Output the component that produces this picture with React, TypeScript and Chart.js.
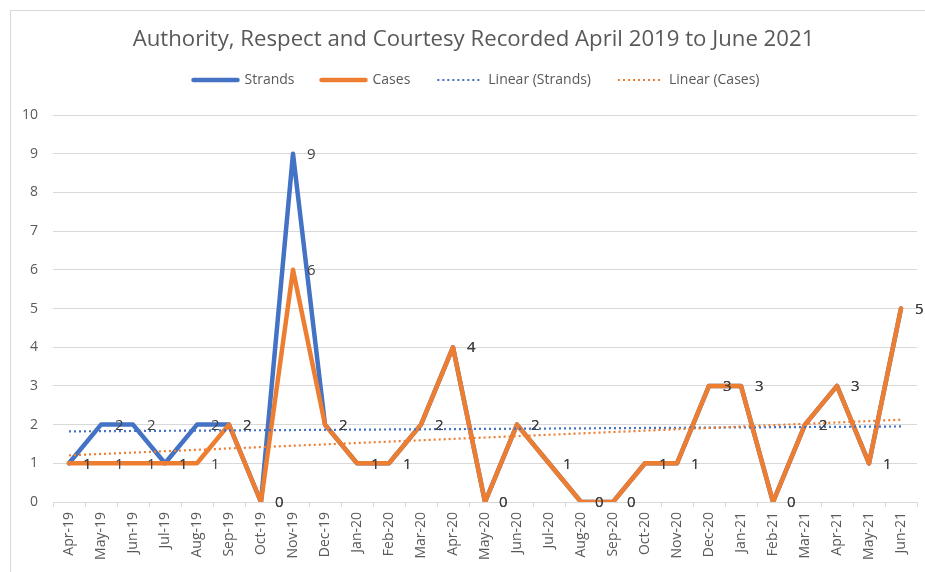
import { useEffect, useRef } from 'react';
import { Chart, registerables } from 'chart.js';

Chart.register(...registerables);

// Monthly categories, April 2019 to June 2021
const months = [
  'Apr-19', 'May-19', 'Jun-19', 'Jul-19', 'Aug-19', 'Sep-19', 'Oct-19', 'Nov-19', 'Dec-19',
  'Jan-20', 'Feb-20', 'Mar-20', 'Apr-20', 'May-20', 'Jun-20', 'Jul-20', 'Aug-20', 'Sep-20',
  'Oct-20', 'Nov-20', 'Dec-20', 'Jan-21', 'Feb-21', 'Mar-21', 'Apr-21', 'May-21', 'Jun-21',
];

const strands = [1, 2, 2, 1, 2, 2, 0, 9, 2, 1, 1, 2, 4, 0, 2, 1, 0, 0, 1, 1, 3, 3, 0, 2, 3, 1, 5];
const cases = [1, 1, 1, 1, 1, 2, 0, 6, 2, 1, 1, 2, 4, 0, 2, 1, 0, 0, 1, 1, 3, 3, 0, 2, 3, 1, 5];

const yTicks = [0, 1, 2, 3, 4, 5, 6, 7, 8, 9, 10];

const TITLE = 'Authority, Respect and Courtesy Recorded April 2019 to June 2021';
const BLUE = '#4472C4';
const ORANGE = '#ED7D31';
const TEXT = '#595959';
const LABEL = '#404040';
const GRID = '#d9d9d9';
const FONT = "'Open Sans', 'Noto Sans', sans-serif";

// Least-squares linear trend evaluated at every category index
function linearTrend(values: number[]): number[] {
  const n = values.length;
  const mx = (n - 1) / 2;
  const my = values.reduce((a, b) => a + b, 0) / n;
  let sxy = 0;
  let sxx = 0;
  values.forEach((v, i) => {
    sxy += (i - mx) * (v - my);
    sxx += (i - mx) * (i - mx);
  });
  const slope = sxy / sxx;
  return values.map((_, i) => my + slope * (i - mx));
}

const legendItems = [
  { text: 'Strands', color: BLUE, width: 4.5, dash: [] as number[] },
  { text: 'Cases', color: ORANGE, width: 4.5, dash: [] as number[] },
  { text: 'Linear (Strands)', color: BLUE, width: 2.2, dash: [2, 3] },
  { text: 'Linear (Cases)', color: ORANGE, width: 2.2, dash: [2, 3] },
];

// Value labels placed to the right of each point of the two main series
const valueLabels = {
  id: 'valueLabels',
  afterDatasetsDraw(chart: Chart) {
    const ctx = chart.ctx;
    ctx.save();
    ctx.font = `15px ${FONT}`;
    ctx.fillStyle = LABEL;
    ctx.textAlign = 'left';
    ctx.textBaseline = 'middle';
    [0, 1].forEach((di) => {
      const meta = chart.getDatasetMeta(di);
      const data = chart.data.datasets[di].data as number[];
      meta.data.forEach((pt: any, i: number) => {
        ctx.fillText(String(data[i]), pt.x + 14, pt.y + 1);
      });
    });
    ctx.restore();
  },
};

// Single-row legend with line samples
const lineLegend = {
  id: 'lineLegend',
  afterDraw(chart: Chart) {
    const ctx = chart.ctx;
    const sample = 48;
    const gap = 5;
    const spacing = 25;
    const y = 69;
    ctx.save();
    ctx.font = `14px ${FONT}`;
    const widths = legendItems.map((it) => ctx.measureText(it.text).width);
    const total = widths.reduce((a, w) => a + sample + gap + w, 0) + spacing * (legendItems.length - 1);
    let x = chart.width / 2 + 2 - total / 2;
    legendItems.forEach((it, i) => {
      ctx.beginPath();
      ctx.strokeStyle = it.color;
      ctx.lineWidth = it.width;
      ctx.lineCap = it.dash.length ? 'butt' : 'round';
      ctx.setLineDash(it.dash);
      ctx.moveTo(x + 2, y);
      ctx.lineTo(x + sample - 2, y);
      ctx.stroke();
      ctx.setLineDash([]);
      ctx.fillStyle = TEXT;
      ctx.textAlign = 'left';
      ctx.textBaseline = 'middle';
      ctx.fillText(it.text, x + sample + gap, y);
      x += sample + gap + widths[i] + spacing;
    });
    ctx.restore();
  },
};

export default function App() {
  const ref = useRef<HTMLCanvasElement | null>(null);

  useEffect(() => {
    if (!ref.current) return;
    Chart.defaults.font.family = FONT;
    const chart = new Chart(ref.current, {
      type: 'line',
      data: {
        labels: months,
        datasets: [
          {
            label: 'Strands',
            data: strands,
            borderColor: BLUE,
            backgroundColor: BLUE,
            borderWidth: 4.5,
            pointRadius: 0,
            borderJoinStyle: 'round',
            borderCapStyle: 'round',
            order: 3,
          },
          {
            label: 'Cases',
            data: cases,
            borderColor: ORANGE,
            backgroundColor: ORANGE,
            borderWidth: 4.5,
            pointRadius: 0,
            borderJoinStyle: 'round',
            borderCapStyle: 'round',
            order: 2,
          },
          {
            label: 'Linear (Strands)',
            data: linearTrend(strands),
            borderColor: BLUE,
            borderWidth: 2.2,
            borderDash: [2, 3],
            pointRadius: 0,
            order: 1,
          },
          {
            label: 'Linear (Cases)',
            data: linearTrend(cases),
            borderColor: ORANGE,
            borderWidth: 2.2,
            borderDash: [2, 3],
            pointRadius: 0,
            order: 0,
          },
        ],
      },
      options: {
        responsive: false,
        animation: false,
        devicePixelRatio: 1,
        layout: { padding: 0 },
        plugins: {
          legend: { display: false },
          tooltip: { enabled: false },
          title: {
            display: true,
            text: TITLE,
            color: TEXT,
            font: { family: FONT, size: 22.2, weight: 'normal', lineHeight: 1.2 },
            padding: { top: 15, bottom: 62.4 },
          },
        },
        scales: {
          x: {
            offset: true,
            grid: {
              offset: true,
              drawOnChartArea: false,
              drawTicks: true,
              tickLength: 5,
              color: GRID,
            },
            border: { display: true, color: GRID },
            ticks: {
              color: TEXT,
              font: { size: 14 },
              minRotation: 90,
              maxRotation: 90,
              autoSkip: false,
              padding: 5,
            },
            afterFit(scale: any) {
              scale.height = 70;
            },
          },
          y: {
            min: yTicks[0],
            max: yTicks[yTicks.length - 1],
            afterBuildTicks(scale: any) {
              scale.ticks = yTicks.map((v) => ({ value: v }));
            },
            grid: { color: GRID, drawTicks: false, lineWidth: 1 },
            border: { display: false },
            ticks: { color: TEXT, font: { size: 14 }, padding: 15 },
            afterFit(scale: any) {
              scale.width = 42;
            },
          },
          // empty right-hand margin beside the plot
          yRight: {
            position: 'right',
            grid: { display: false },
            border: { display: false },
            ticks: { display: false },
            afterFit(scale: any) {
              scale.width = 19;
            },
          },
        },
      },
      plugins: [valueLabels, lineLegend],
    });
    return () => chart.destroy();
  }, []);

  return (
    <div
      style={{
        position: 'fixed',
        left: 0,
        top: 0,
        width: 925,
        height: 572,
        overflow: 'hidden',
        background: '#fff',
      }}
    >
      <div
        style={{
          position: 'absolute',
          left: 10,
          top: 10,
          width: 925,
          height: 570,
          border: `1px solid ${GRID}`,
          background: '#fff',
        }}
      >
        <canvas ref={ref} width={925} height={561} style={{ display: 'block' }} />
      </div>
    </div>
  );
}
